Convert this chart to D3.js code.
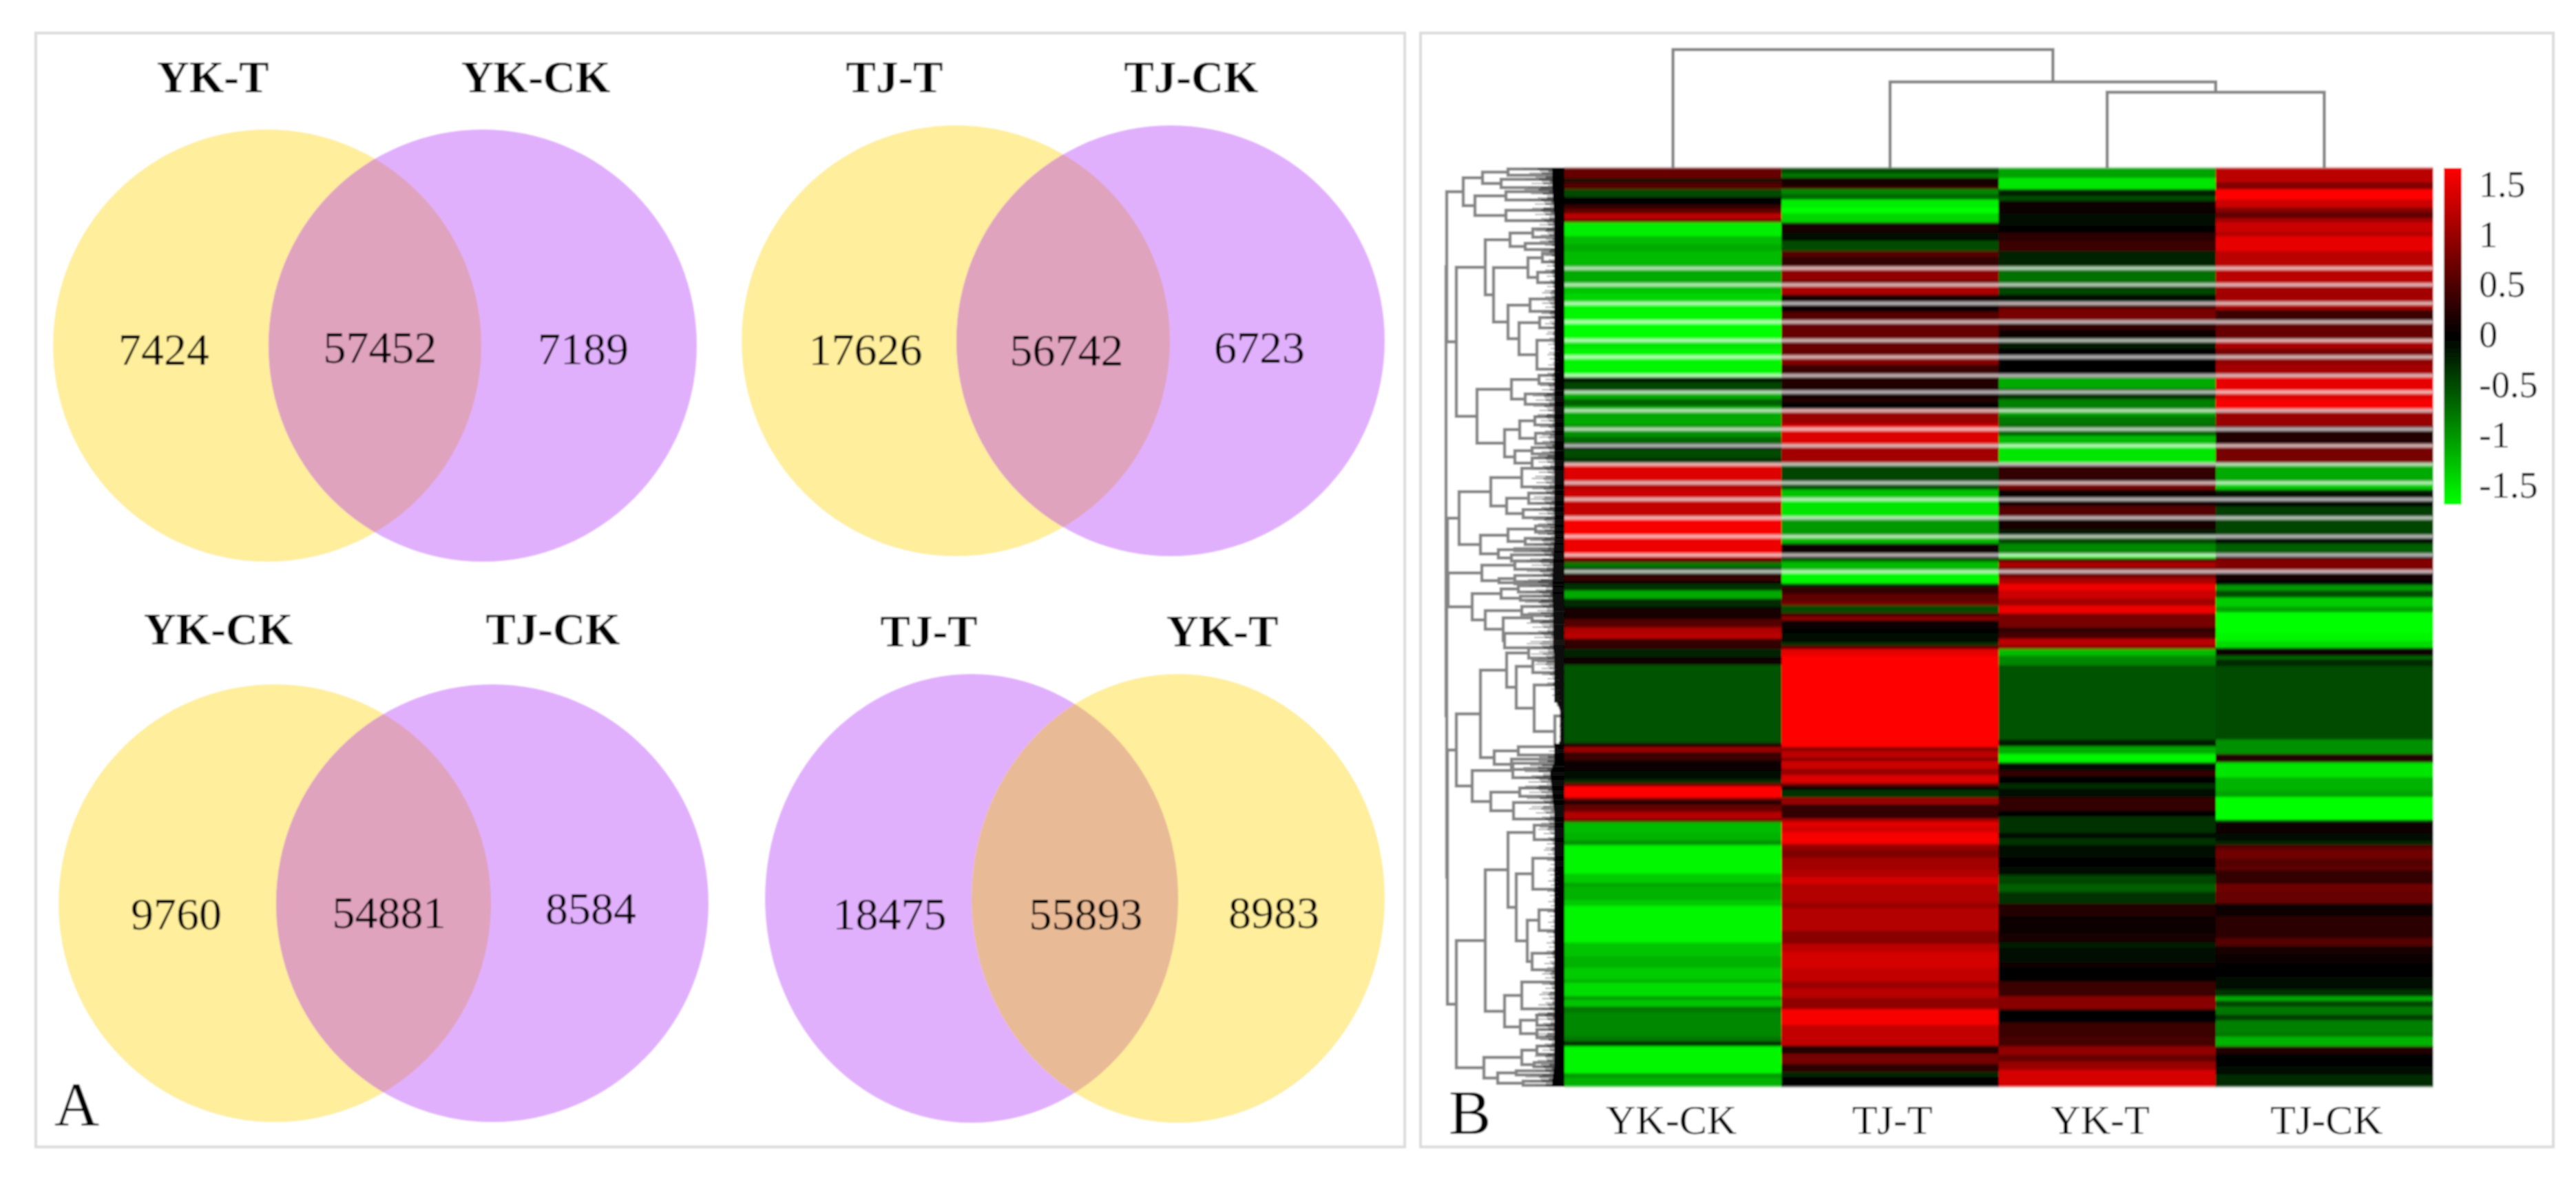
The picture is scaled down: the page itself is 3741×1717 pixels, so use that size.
<!DOCTYPE html>
<html><head><meta charset="utf-8">
<script src="https://cdn.jsdelivr.net/npm/d3@7"></script>
<style>html,body{margin:0;padding:0;background:#fff}svg{display:block}text{font-family:"Liberation Serif",serif;fill:#000}</style>
</head><body><div id="c"></div>
<script>
// ---------- Venn data ----------
const vennLeftNames  = ["YK-T","TJ-T","YK-CK","TJ-T"];
const vennRightNames = ["YK-CK","TJ-CK","TJ-CK","YK-T"];
const vennLeftOnly   = [7424,17626,9760,18475];
const vennShared     = [57452,56742,54881,55893];
const vennRightOnly  = [7189,6723,8584,8983];

// ---------- Heatmap data: each column is a list of band-end rows and band values ----------
const columns = ["YK-CK","TJ-T","YK-T","TJ-CK"];
const ykCkEnds = [5.1,7,10.3,14,17.6,19.8,22,24.8,26.4,33.1,37,40.3,47,55.9,60.9,65.3,74.2,83.1,87.6,92.7,101.4,103.7,108.1,112,115.3,124.4,130.3,133.7,136.4,140.3,143.1,151.4,155.9,159.8,169.2,178.1,187.6,189.2,191.1,193.7,196.4,200.3,201.4,204.8,208.7,212.6,213.7,218.7,222.6,225.3,228.1,231.4,233.1,237,240.9,242,278.7,280.6,283.1,287,292,296.4,298.1,299.6,305.1,306.4,308.4,312,315.6,317,322,325.9,328.1,338.7,342,346.4,348.1,354.8,357.6,375.3,382,387.6,393.1,394.8,401.4,403.1,406.4,409.2,420.9,423.1,425.6,438.7,440.9,445];
const ykCkVals = [.6,-.1,.5,-.45,0,.3,.55,1.1,.5,-1.4,-1.1,-1,-1.1,-1,-1.15,-1.25,-1.45,-1.5,-1.35,-1.45,-1.45,-.1,-.4,-1,-.55,-1,-.85,-.6,-.1,-.45,-.3,1.3,1.05,1.2,1.15,1.45,1.4,1.2,.5,-.7,-.3,.3,.1,-.3,-1,-.25,0,.15,.5,1,1.1,.3,.25,-.2,.1,-.5,-.48,.15,.9,.35,.1,-.05,-.3,.6,1.5,.7,.15,.6,1.05,.4,-1.1,-1.05,-.85,-1.45,-1.45,-1.2,-.95,-1.05,-1.2,-1.45,-1.15,-1.05,-1.2,-1.05,-1.3,-.9,-1.15,-.7,-.8,-.7,-.3,-1.45,-.9,-1.05];
const tjTEnds = [2.6,4.8,8.7,10.3,12.6,15.3,19.2,22,26.4,31.4,35.3,40.3,43.1,47.6,54.2,57,61.4,65.3,69.8,74.2,83.1,90.9,95.3,101.4,107,112,113.7,116.8,124.2,133.7,143.1,153.7,155.9,160.9,169.2,178.1,182,184.8,189.2,190.9,195.9,201.4,203.1,206.4,210.3,212,215.6,217.3,219.2,223.1,225.3,229.8,231.4,233.1,236.4,280.6,282.6,285.9,287.3,290.9,294.2,298.1,299.6,301.4,305.1,308.4,315.3,317,318.7,322,327.6,330.3,334.2,338.7,340.3,343.7,347,355.9,358.7,369.8,375.9,379.8,387.6,394.2,397.6,402,407.6,415.3,425.3,429.2,434.2,438.1,440.3,445];
const tjTVals = [-.45,-.7,.15,.35,-.8,-.6,-1.4,-1.5,-1.25,.15,-.1,-.45,.5,.3,.85,.7,1,.15,.1,.5,.6,.6,.8,.35,.2,.15,.2,0,.9,1.3,.95,-.4,-.5,-1.15,-1.35,-.9,-1.1,.05,.1,-.6,-1.1,-1.45,-.2,.3,.55,.7,-.45,.4,.8,.1,0,-.05,-.3,.5,1.35,1.5,.8,1.1,.7,1.2,.9,1.3,.6,0,-.3,.9,.3,1,1.35,1.25,1.45,.9,.75,.95,.95,1.05,1.25,1.05,.9,1.05,.8,1.1,1.25,1.15,.9,1.1,.85,1.45,1.15,.2,.7,.25,-.25,0];
const ykTEnds = [4.8,10.3,13.7,15.9,22,28.1,31.4,35.3,40.3,47.6,56.4,61.4,65.3,68.1,74.2,78.7,82.6,87.6,92,101.4,107,112,116.8,120.3,124.4,129.8,133.7,143.1,152,155.9,160.3,163.7,169.2,175.3,178.1,182,187,189.2,190.9,193.7,197,198.7,201.4,204.8,208.7,212,215.9,222.6,225.3,228.1,231.4,233.1,236.4,240.9,242,277,280.3,283.9,288.1,292,294.8,298.1,300.9,304.8,311.4,314.2,322,324.8,328.1,334.2,338.7,342.6,347,350.9,356.4,362.6,370.9,375.3,378.1,384.8,387.6,394.2,401.4,407.6,414.2,420.9,425.6,429.8,433.1,437,445];
const ykTVals = [-.95,-1.35,-.2,-.45,.1,-.1,0,.25,.35,-.2,-.65,-.4,-.1,.4,.7,.3,.05,-.15,0,.03,-1,-.3,-.75,-.95,-.7,-.6,-1.1,-1.35,.3,.7,.05,.1,.5,.15,-.15,-.45,-.8,-1.35,.4,1,.6,.7,1,1.4,1.2,.95,1.4,.7,.3,.4,1.1,.8,-1.1,-.8,-.5,-.48,-.15,-1,-1.45,-.05,.3,.03,-.25,-.08,.3,0,-.3,-.08,-.3,-.05,0,-.08,-.4,-.55,-.3,.2,.05,.15,-.15,-.08,.1,0,.35,.8,0,.35,.4,.85,.6,.9,1.25];
const tjCkEnds = [7,10.3,15.3,19.2,21.4,24.2,26.4,30.9,33.1,40.3,47.6,56.4,65.3,68.7,74.2,83.1,87.6,92,95.3,101.4,108.1,112,116.8,125.3,133.7,143.1,152,155.9,157.6,164.2,169.2,178.1,182,187,189.2,195.9,199.8,202,204.8,208.1,212.6,215.3,225.3,229.2,232.6,236.4,238.1,241.4,277,283.9,288.1,295.3,302,304.8,315.9,317,322.6,325.9,328.1,330.3,334.8,338.7,340.3,347,350.3,356.4,362.6,373.1,377,380.9,385.3,392,398.1,401.4,403.6,406.4,410.3,413.1,418.7,420.9,425.6,429.2,435.3,439.2,445];
const tjCkVals = [1.1,.75,1.5,1.2,.8,.55,.95,1.2,1.05,1.35,1.1,1.1,.95,1,.35,.6,1,.7,.85,.95,1.35,1.3,1.45,.9,.2,.7,-1,-1.2,-.2,-.05,-.35,-.4,-.05,-.55,0,.75,.15,0,-.9,-.45,-1.2,-.95,-1.5,-1.45,-1.3,.05,-.6,-.25,-.45,-.85,.2,-1.35,-1.05,-.95,-1.5,-.3,.1,-.08,-.2,.5,.65,.5,.55,.3,.65,.6,.05,.25,.5,.15,.1,.03,-.08,-.3,-1,-.4,-.7,-.35,-.75,-.7,-1.05,.2,-.03,-.08,-.25];
const columnEnds = [ykCkEnds,tjTEnds,ykTEnds,tjCkEnds];
const columnVals = [ykCkVals,tjTVals,ykTVals,tjCkVals];
const rowCount = 445;
const blankRows = [48,56,65,74,83,91,100,108,117,126,134,143,152,160,169,178,187,195];
const legendTicks = [1.5,1,0.5,0,-0.5,-1,-1.5];

// Column dendrogram: [height, child, child], leaves are column names
const columnTree = [100,"YK-CK",[72.7,"TJ-T",[64,"YK-T","TJ-CK"]]];

// Row dendrogram: [distance, child, child], leaves are row numbers
const clA = [147,[119,[82,0,3],[92,5,9]],[130,[85,11,15],[85,20,25]]];
const clB = [157,
  [115,[79,[46,29,33],[57,36,39]],[103,[53,[32,41,45],[39,50,55]],[82,[50,63,69],[66,[36,72,77],[40,83,97]]]]],
  [127,[77,[37,100,104],[57,109,114]],[87,[65,[43,120,124],[42,128,133]],[72,[47,135,138],[47,140,145]]]]];
const clC = [153,[107,[62,145,154],[84,[52,157,162],[60,165,169]]],[122,[82,[42,173,176],[57,179,182]],[96,[72,184,185],[77,187,190]]]];
const clD = [169,[120,[72,190,194],[95,[72,197,200],[72,200,201]]],[134,[92,[67,202,205],[64,207,209]],[115,[62,212,216],[89,[47,216,219],[87,225,232]]]]];
const clE = [157,
  [122,[84,[52,232,237],[70,[46,238,244],[44,250,[14,265,280]]]],[102,[67,280,284],[77,286,291]]],
  [134,[75,288,295],[107,[65,300,304],[74,307,315]]]];
const clF = [157,
  [115,[82,[44,318,325],[70,[46,334,349],[54,[37,359,369],[47,380,388]]]],[87,[62,394,407],[64,[40,410,415],[40,417,421]]]],
  [117,[62,[40,425,429],[44,433,435]],[97,[70,437,439],[60,442,444]]]];
const rowTree = [172,[171,clA,clB],[171,[170,clC,clD],[170,clE,clF]]];
// Length of the dense leaf fringe, per 15 rows
const fringeLength = [60,50,35,30,35,25,25,50,35,45,50,45,55,60,55,55,30,8,8,70,55,35,25,25,25,30,35,45,40,60];
// Repeating texture of the leaf tips
const tipPattern = [1,.6,.85,.45,.7,.95,.55,.8,.4,.9];

// ---------- Layout ----------
const W=3741,H=1717;
const vennBoxes=[
 {lx:388,rx:701,a:311,cy:502,b:314},{lx:1388,rx:1700,a:311,cy:495,b:313},
 {lx:399,rx:715,a:314,cy:1312,b:318},{lx:1411,rx:1711,a:300,cy:1305,b:326}];
const vennFill=[
 {l:"#FFEE9C",r:"#E1B0FC",m:"#E0A3BE"},{l:"#FFEE9C",r:"#E1B0FC",m:"#E0A3BE"},
 {l:"#FFEE9C",r:"#E1B0FC",m:"#E0A3BE"},{l:"#E1B0FC",r:"#FFEE9C",m:"#E9BA96"}];
const vennTitlePos=[
 {lx:309,rx:778,y:134},{lx:1299,rx:1730,y:134},{lx:317,rx:803,y:936},{lx:1349,rx:1775,y:939}];
const vennNumPos=[
 [[238,530],[552,527],[847,529]],[[1257,530],[1549,531],[1829,527]],
 [[256,1350],[565,1348],[858,1342]],[[1292,1350],[1577,1350],[1850,1348]]];

const svg=d3.select("#c").append("svg").attr("width",W).attr("height",H).attr("viewBox",`0 0 ${W} ${H}`);
const defs=svg.append("defs");
const soft=defs.append("filter").attr("id","soft").attr("filterUnits","userSpaceOnUse").attr("x",0).attr("y",0).attr("width",W).attr("height",H);
soft.append("feGaussianBlur").attr("stdDeviation",1);
const vert=defs.append("filter").attr("id","vert").attr("filterUnits","userSpaceOnUse").attr("x",0).attr("y",0).attr("width",W).attr("height",H);
vert.append("feGaussianBlur").attr("stdDeviation","0.6 1.8");
const root=svg.append("g").attr("filter","url(#soft)");
svg.insert("rect",":first-child").attr("width",W).attr("height",H).attr("fill","#fff");

// Panels
[[52,48,1988,1618],[2063,48,1645,1618]].forEach(p=>root.append("rect")
  .attr("x",p[0]).attr("y",p[1]).attr("width",p[2]).attr("height",p[3])
  .attr("fill","#fff").attr("stroke","#dcdcdc").attr("stroke-width",4));

// Venns
vennBoxes.forEach((b,i)=>{
  const g=root.append("g"), f=vennFill[i];
  g.append("ellipse").attr("cx",b.lx).attr("cy",b.cy).attr("rx",b.a).attr("ry",b.b).attr("fill",f.l);
  g.append("ellipse").attr("cx",b.rx).attr("cy",b.cy).attr("rx",b.a).attr("ry",b.b).attr("fill",f.r);
  defs.append("clipPath").attr("id","v"+i).append("ellipse").attr("cx",b.lx).attr("cy",b.cy).attr("rx",b.a).attr("ry",b.b);
  g.append("ellipse").attr("cx",b.rx).attr("cy",b.cy).attr("rx",b.a).attr("ry",b.b).attr("fill",f.m).attr("clip-path",`url(#v${i})`);
  const t=vennTitlePos[i];
  [[vennLeftNames[i],t.lx],[vennRightNames[i],t.rx]].forEach(d=>g.append("text").text(d[0])
     .attr("x",d[1]).attr("y",t.y).attr("text-anchor","middle").attr("font-size",65).attr("font-weight","bold"));
  [vennLeftOnly[i],vennShared[i],vennRightOnly[i]].forEach((v,j)=>g.append("text").text(v)
     .attr("x",vennNumPos[i][j][0]).attr("y",vennNumPos[i][j][1]).attr("text-anchor","middle").attr("font-size",66));
});
root.append("text").text("A").attr("x",79).attr("y",1635).attr("font-size",90);
root.append("text").text("B").attr("x",2104).attr("y",1647).attr("font-size",92);

// Heatmap
const x=d3.scaleBand().domain(columns).range([2272,3533]);
const y=d3.scaleLinear().domain([0,rowCount]).range([244,1578]);
const color=d3.scaleLinear().domain([-1.5,0,1.5]).range(["#00ff00","#000000","#ff0000"]).clamp(true);
const heat=root.append("g");
const heatInner=heat.append("g").attr("filter","url(#vert)");
columns.forEach((c,i)=>{
  const ends=columnEnds[i], vals=columnVals[i];
  const n=Math.min(ends.length,vals.length);
  const bands=d3.range(n).map(k=>({a:k?ends[k-1]:0,b:k===n-1?rowCount:ends[k],v:vals[k]}));
  heatInner.append("g").selectAll("rect").data(bands).join("rect")
    .attr("x",x(c)).attr("width",x.bandwidth()+.5)
    .attr("y",d=>y(d.a)).attr("height",d=>Math.max(0,y(d.b)-y(d.a))+.5)
    .attr("fill",d=>color(d.v));
});
heatInner.append("g").selectAll("rect").data(blankRows).join("rect")
  .attr("x",x.range()[0]).attr("width",x.range()[1]-x.range()[0])
  .attr("y",d=>y(d)-.5).attr("height",4.5).attr("fill","#fff").attr("opacity",.72);

// Column labels
root.append("g").selectAll("text").data(columns).join("text").text(d=>d)
  .attr("x",(d,i)=>[2427,2748,3050,3379][i]).attr("y",1647).attr("text-anchor","middle").attr("font-size",60);

// Column dendrogram
const hScale=d3.scaleLinear().domain([0,100]).range([244,72]);
const cRoot=d3.hierarchy(columnTree,n=>Array.isArray(n)?n.slice(1):null);
cRoot.eachAfter(n=>{
  if(n.children){n.px=d3.mean(n.children,c=>c.px);n.py=hScale(n.data[0]);}
  else{n.px=x(n.data)+x.bandwidth()/2;n.py=hScale(0);}
});
const dendroLine=d3.line();
const cg=root.append("g").attr("fill","none").attr("stroke","#858585").attr("stroke-width",4.5);
cRoot.each(n=>{if(n.children){
  const [a,b]=n.children;
  cg.append("path").attr("d",dendroLine([[a.px,a.py],[a.px,n.py],[b.px,n.py],[b.px,b.py]]));
}});

// Row dendrogram
const dScale=d3.scaleLinear().domain([0,200]).range([2272,2072]);
const rRoot=d3.hierarchy(rowTree,n=>Array.isArray(n)?n.slice(1):null);
rRoot.eachAfter(n=>{
  if(n.children){n.py=d3.mean(n.children,c=>c.py);n.px=dScale(n.data[0]);}
  else{n.py=y(n.data+.5);n.px=dScale(0);}
});
const rg=root.append("g");
const rLines=rg.append("g").attr("fill","none").attr("stroke","#858585").attr("stroke-width",4.5);
rRoot.each(n=>{if(n.children){
  const [a,b]=n.children;
  rLines.append("path").attr("d",dendroLine([[a.px,a.py],[n.px,a.py],[n.px,b.py],[b.px,b.py]]));
}});
const fringeAt=d3.scaleLinear().domain(fringeLength.map((d,i)=>i*15+7.5)).range(fringeLength).clamp(true);
const fringeRows=d3.range(rowCount).map(r=>({r,len:fringeAt(r),tip:tipPattern[r%tipPattern.length]}));
const rowLine=(sel,xf)=>sel.join("line").attr("x1",xf).attr("x2",dScale(0)).attr("y1",d=>y(d.r+.5)).attr("y2",d=>y(d.r+.5));
rowLine(rg.append("g").attr("stroke","#666").attr("stroke-width",1.6).attr("opacity",.65)
  .selectAll("line").data(fringeRows),d=>dScale(d.len*d.tip));
rowLine(rg.append("g").attr("stroke","#222").attr("stroke-width",2.2).attr("opacity",.75)
  .selectAll("line").data(fringeRows),d=>dScale(d.len*.65*d.tip));
rowLine(rg.append("g").attr("stroke","#000").attr("stroke-width",3.2)
  .selectAll("line").data(fringeRows),d=>dScale(d.len<14?d.len*.8:Math.max(15,d.len*.3)));

// Legend
const grad=defs.append("linearGradient").attr("id","lg").attr("x1",0).attr("y1",0).attr("x2",0).attr("y2",1);
[[0,"#ff0000"],[.5,"#000000"],[1,"#00ff00"]].forEach(s=>grad.append("stop").attr("offset",s[0]).attr("stop-color",s[1]));
root.append("rect").attr("x",3549).attr("y",244).attr("width",26).attr("height",489).attr("fill","url(#lg)");
const lScale=d3.scaleLinear().domain([-1.5,1.5]).range([705,268]);
const axis=root.append("g").attr("transform","translate(3575,0)")
  .call(d3.axisRight(lScale).tickValues(legendTicks).tickSize(0).tickPadding(25).tickFormat(d=>String(d)));
axis.select(".domain").remove();
axis.selectAll("text").attr("font-size",54).attr("font-family",'"Liberation Serif",serif').attr("fill","#000");
</script></body></html>
